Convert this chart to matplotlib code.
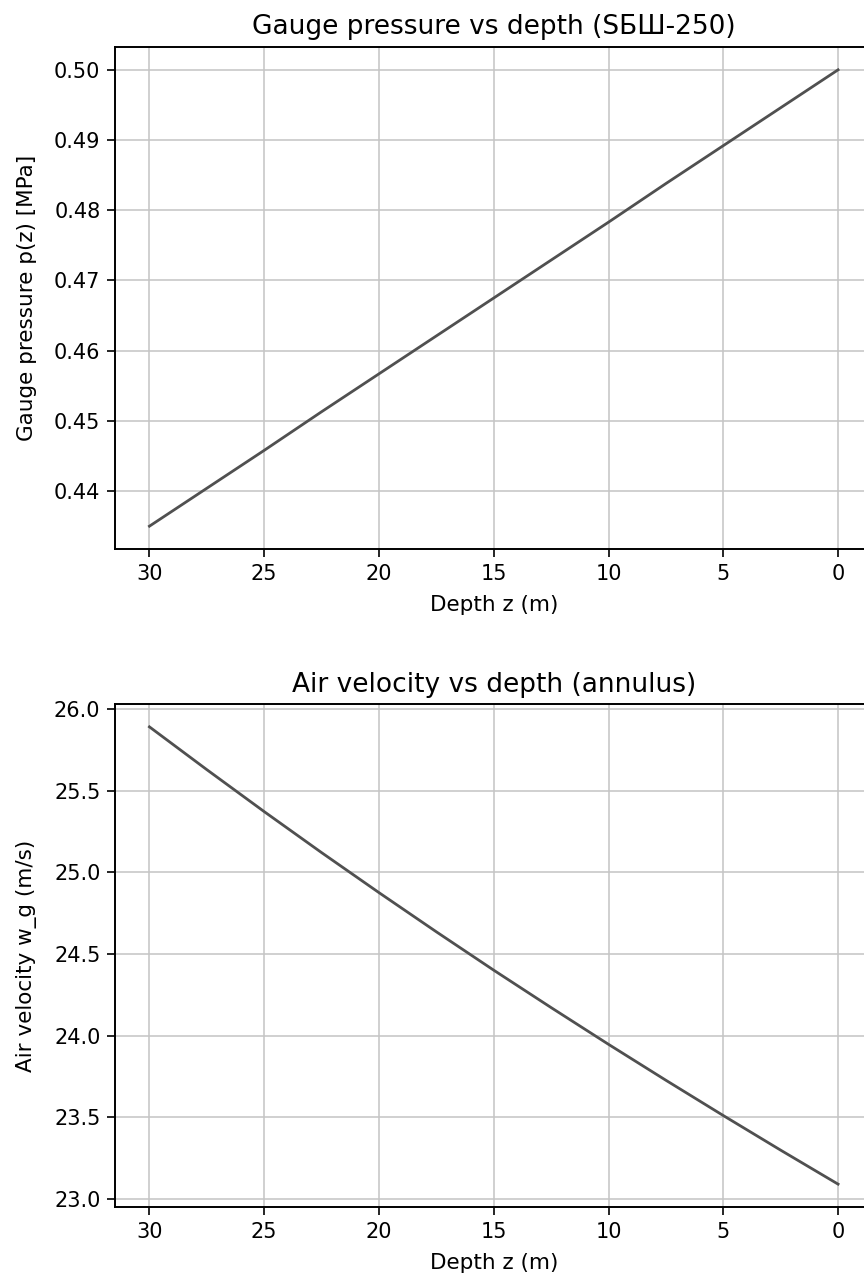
import matplotlib
matplotlib.use("Agg")
import matplotlib.pyplot as plt

depth_m = [0, 2.5, 5, 7.5, 10, 12.5, 15, 17.5, 20, 22.5, 25, 27.5, 30]
pressure_mpa = [0.5000, 0.4946, 0.4892, 0.4838, 0.4783, 0.4729, 0.4675,
                0.4621, 0.4567, 0.4513, 0.4458, 0.4404, 0.4350]
velocity_ms = [23.090, 23.298, 23.510, 23.726, 23.946, 24.171, 24.400,
               24.635, 24.875, 25.120, 25.371, 25.628, 25.890]

title_top = "Gauge pressure vs depth (SБШ-250)"
title_bot = "Air velocity vs depth (annulus)"
xlabel = "Depth z (m)"
ylabel_top = "Gauge pressure p(z) [MPa]"
ylabel_bot = "Air velocity w_g (m/s)"

W, H = 864, 1277
fig = plt.figure(figsize=(W / 100, H / 100), dpi=100)

left = 115 / W
width = 757.5 / W
ax1 = fig.add_axes([left, 1 - 549 / H, width, 502 / H])
ax2 = fig.add_axes([left, 1 - 1207 / H, width, 503 / H])

line_color = "#505050"
for ax, y, t, yl in [(ax1, pressure_mpa, title_top, ylabel_top),
                     (ax2, velocity_ms, title_bot, ylabel_bot)]:
    ax.plot(depth_m, y, color=line_color, linewidth=2.0)
    ax.invert_xaxis()
    ax.grid(True, color="#c4c4c4", linewidth=1.1)
    ax.set_title(t, fontsize=19, pad=9)
    ax.set_xlabel(xlabel, fontsize=15.5, labelpad=8)
    ax.set_ylabel(yl, fontsize=15.5, labelpad=12)
    ax.tick_params(labelsize=15, length=5.5, width=1.2, pad=5)
    for s in ax.spines.values():
        s.set_linewidth(1.4)

ax1.set_yticks([0.44, 0.45, 0.46, 0.47, 0.48, 0.49, 0.50])
ax2.set_yticks([23.0, 23.5, 24.0, 24.5, 25.0, 25.5, 26.0])

fig.savefig("out.png", dpi=100)
